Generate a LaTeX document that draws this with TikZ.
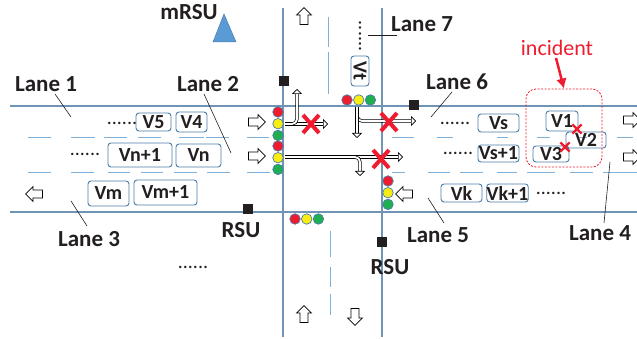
\documentclass[tikz,border=0pt]{standalone}
\usepackage{fontspec}
\setmainfont{Carlito}
\usetikzlibrary{arrows.meta,shapes.arrows,shapes.misc,calc,positioning}
\definecolor{roadline}{HTML}{6F94B5}
\definecolor{dashline}{HTML}{7FB0DC}
\definecolor{carline}{HTML}{4A7EA8}
\definecolor{rsublue}{HTML}{5B9BD5}
\definecolor{crossred}{HTML}{EE1C2E}
\definecolor{lampgreen}{HTML}{1FAF50}
\definecolor{lampyellow}{HTML}{F7EC13}
\definecolor{textblack}{HTML}{231F20}
\tikzset{
    lanelabel/.style = {font=\fontsize{23}{23}\selectfont\bfseries, text=textblack, inner sep=0pt},
    car/.style = {draw=carline, line width=0.9pt, rounded corners=3pt, font=\fontsize{20}{20}\selectfont\bfseries, text=textblack, inner sep=0pt},
    lamp/.style = {draw=carline, line width=0.7pt, circle, minimum size=10.5pt, inner sep=0pt},
    rsu/.style = {fill=textblack, rectangle, minimum size=10.5pt, inner sep=0pt},
    road/.style = {draw=roadline, line width=1.2pt},
    lanedash/.style = {draw=dashline, line width=0.9pt},
    leader/.style = {draw=textblack, line width=0.6pt},
    flow/.style = {draw=black, fill=white, line width=0.7pt, single arrow, minimum width=15pt, minimum height=17pt, single arrow head extend=3.5pt, single arrow tip angle=90, inner sep=3.5pt, anchor=center},
    turn/.style = {draw=black, double=white, double distance=1.8pt, line width=0.7pt, rounded corners=5pt, -{Triangle[open,fill=white,length=5pt,width=10pt,line width=0.7pt]}},
    bigx/.style = {cross out, draw=crossred, line width=4pt, minimum width=12pt, minimum height=14pt, inner sep=0pt},
    smallx/.style = {cross out, draw=crossred, line width=2.2pt, minimum size=7pt, inner sep=0pt},
    dots/.style = {font=\fontsize{20}{20}\selectfont, text=textblack, inner sep=0pt}
}
\begin{document}
\begin{tikzpicture}[x=1pt,y=-1pt]
    \useasboundingbox (0,0) rectangle (637,339);
    % roads
    \coordinate (northw) at (283,8); \coordinate (southw) at (283,337);
    \coordinate (northe) at (382,8); \coordinate (southe) at (382,337);
    \coordinate (westt) at (10,106); \coordinate (eastt) at (637,106);
    \coordinate (westb) at (10,212); \coordinate (eastb) at (637,212);
    \draw [road] (westt) -- (eastt);
    \draw [road] (westb) -- (eastb);
    \draw [road] (northw) -- (southw);
    \draw [road] (northe) -- (southe);
    % lane markings
    \foreach \a/\b in {28/51,71/95,104/127,138/161,179/204,206/229,247/269,392/414,437/453,497/508,537/550,577/587,617/633}{
        \draw [lanedash] (\a,137.5) -- (\b,137.5);
    }
    \foreach \a/\b in {28/51,71/94,108/130,141/163,174/197,207/230,247/270,392/405,428/450,460/483,497/517,527/555,570/593,603/637}{
        \draw [lanedash] (\a,172) -- (\b,172);
    }
    \foreach \a/\b in {17/47,52/94}{
        \draw [lanedash] (328,\a) -- (328,\b);
    }
    \foreach \a/\b in {231/257,267/287,294/315}{
        \draw [lanedash] (330,\a) -- (330,\b);
    }
    % vehicles
    \foreach \cname/\ctext/\cx/\cy/\cw/\ch in {v5/V5/153.5/122/35/18,v4/V4/191.5/122/31/20,vna/Vn+1/140/155/64/24,vn/Vn/198.5/155.5/45/23,
        vm/Vm/108.5/193.5/41/25,vmb/Vm+1/165.5/192.5/63/25,vs/Vs/498.5/123/41/18,vsb/Vs+1/498.5/153.5/41/17,
        v1/V1/562/121/32/20,v3/V3/551/154/36/16,v2/V2/586/140/40/16,vk/Vk/461.5/193/41/18,vkb/Vk+1/507.5/193/41/18}{
        \node [car, minimum width=\cw pt, minimum height=\ch pt] (\cname) at (\cx,\cy) {\ctext};
    }
    \node [car, minimum width=30pt, minimum height=18pt, rotate=-90] (vt) at (360,71) {Vt};
    % dots
    \node [dots] (dotsa) at (122,123) {......};
    \node [dots] (dotsb) at (85,154) {......};
    \node [dots] (dotsc) at (193,267) {......};
    \node [dots] (dotsd) at (455,123) {......};
    \node [dots] (dotse) at (458,153) {......};
    \node [dots] (dotsf) at (551,193) {......};
    \node [dots, rotate=90] (dotsg) at (360,36) {......};
    % flow arrows
    \node [flow] (ina) at (255,122) {};
    \node [flow] (inb) at (255,156) {};
    \node [flow] (outa) at (630,120) {};
    \node [flow] (outb) at (630,157) {};
    \node [flow, rotate=180] (backa) at (36,194) {};
    \node [flow, rotate=180] (backb) at (406,194) {};
    \node [flow, rotate=90] (upa) at (304,18) {};
    \node [flow, rotate=90] (upb) at (304,316) {};
    \node [flow, rotate=-90] (downb) at (355,315) {};
    % turning movements
    \coordinate (froma) at (285,124); \coordinate (throa) at (328,124); \coordinate (lefta) at (297,89);
    \coordinate (fromb) at (285,157); \coordinate (throb) at (403,157); \coordinate (rightb) at (360,176);
    \coordinate (fromc) at (357,107); \coordinate (throc) at (416,121); \coordinate (downc) at (357,138);
    \draw [turn] (froma) -- (throa);
    \draw [turn] (froma) -- (297,124) -- (lefta);
    \draw [turn] (fromb) -- (throb);
    \draw [turn] (fromb) -- (360,157) -- (rightb);
    \draw [turn] (fromc) -- (357,121) -- (throc);
    \draw [turn] (fromc) -- (downc);
    % traffic lights
    \foreach \lname/\lx/\ly in {wa/278/112,wb/278/146}{
        \node [lamp, fill=crossred] (\lname r) at (\lx,\ly) {};
        \node [lamp, fill=lampyellow, below=0.5pt of \lname r] (\lname y) {};
        \node [lamp, fill=lampgreen, below=0.5pt of \lname y] (\lname g) {};
    }
    \node [lamp, fill=crossred] (er) at (388,181) {};
    \node [lamp, fill=lampyellow, below=0.5pt of er] (ey) {};
    \node [lamp, fill=lampgreen, below=0.5pt of ey] (eg) {};
    \foreach \lname/\lx/\ly in {n/347/100,s/295/219}{
        \node [lamp, fill=crossred] (\lname r) at (\lx,\ly) {};
        \node [lamp, fill=lampyellow, right=0.5pt of \lname r] (\lname y) {};
        \node [lamp, fill=lampgreen, right=0.5pt of \lname y] (\lname g) {};
    }
    % crosses
    \node [bigx] (xa) at (311,124) {};
    \node [bigx] (xb) at (389,122) {};
    \node [bigx] (xc) at (381,159) {};
    \node [smallx] (xd) at (577,129) {};
    \node [smallx] (xe) at (565,147) {};
    % road side units
    \node [rsu] (rsua) at (284,81) {};
    \node [rsu] (rsub) at (414,105) {};
    \node [rsu] (rsuc) at (248,209) {};
    \node [rsu] (rsud) at (382,242) {};
    \node [lanelabel] (rsulabc) at (241,230) {RSU};
    \node [lanelabel] (rsulabd) at (390,267) {RSU};
    \node [lanelabel] (mrsulab) at (189,12) {mRSU};
    \draw [draw=rsublue!80!black, fill=rsublue, line width=0.5pt] (224,14) -- (236,42) -- (213,42) -- cycle;
    % lane labels
    \node [lanelabel] (lanea) at (46,84) {Lane 1};
    \node [lanelabel] (laneb) at (208,84) {Lane 2};
    \node [lanelabel] (lanec) at (89,239) {Lane 3};
    \node [lanelabel] (laned) at (600,233) {Lane 4};
    \node [lanelabel] (lanee) at (438,235) {Lane 5};
    \node [lanelabel] (lanef) at (457,82) {Lane 6};
    \node [lanelabel] (laneg) at (422,24) {Lane 7};
    \coordinate (enda) at (71,117); \coordinate (endb) at (231,153); \coordinate (endc) at (71,201);
    \coordinate (endd) at (610,162); \coordinate (ende) at (428,198); \coordinate (endf) at (431,117);
    \coordinate (endg) at (368,35);
    \draw [leader] (lanea) ++(9,10) -- (enda);
    \draw [leader] (laneb) ++(-4,10) -- (endb);
    \draw [leader] (lanec) ++(-2,-13) -- (endc);
    \draw [leader] (laned) ++(4,-10) -- (endd);
    \draw [leader] (lanee) ++(6,-12) -- (ende);
    \draw [leader] (lanef) ++(-5,10) -- (endf);
    \draw [leader] (laneg) ++(-25,11) -- (endg);
    % incident
    \node [draw=crossred, dash pattern=on 2pt off 1.5pt, line width=0.8pt, rounded corners=10pt, minimum width=76pt, minimum height=78pt, inner sep=0pt] (zone) at (564,128) {};
    \node [font=\fontsize{22}{22}\selectfont, text=crossred, inner sep=0pt] (incident) at (557,48) {incident};
    \draw [draw=crossred, line width=2.5pt, -{Latex[length=10pt,width=11pt]}] (incident) ++(-1,10) -- (zone.north);
\end{tikzpicture}
\end{document}
